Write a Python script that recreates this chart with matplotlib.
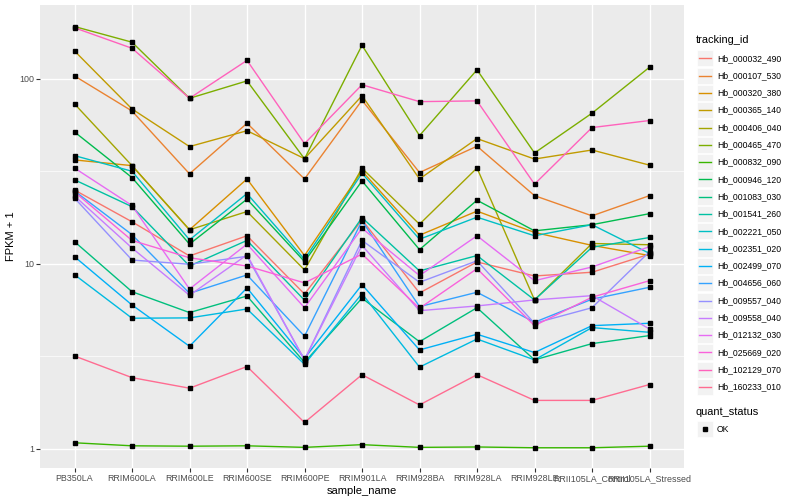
import matplotlib
matplotlib.use("Agg")
import matplotlib.pyplot as plt
from matplotlib.patches import Rectangle
from matplotlib.lines import Line2D
from matplotlib.ticker import FixedLocator, NullFormatter

plt.rcParams['font.family'] = ['Liberation Sans', 'DejaVu Sans']

# -------------------------
# data (FPKM + 1)
# -------------------------
samples = ["PB350LA", "RRIM600LA", "RRIM600LE", "RRIM600SE", "RRIM600PE",
           "RRIM901LA", "RRIM928BA", "RRIM928LA", "RRIM928LE",
           "RRII105LA_Control", "RRII105LA_Stressed"]

tracking_ids = ["Hb_000032_490", "Hb_000107_530", "Hb_000320_380", "Hb_000365_140",
                "Hb_000406_040", "Hb_000465_470", "Hb_000832_090", "Hb_000946_120",
                "Hb_001083_030", "Hb_001541_260", "Hb_002221_050", "Hb_002351_020",
                "Hb_002499_070", "Hb_004656_060", "Hb_009557_040", "Hb_009558_040",
                "Hb_012132_030", "Hb_025669_020", "Hb_102129_070", "Hb_160233_010"]

# ggplot default hue palette for 20 groups
colors = ["#F8766D", "#EA8331", "#D89000", "#C09B00", "#A3A500", "#7CAE00", "#39B600",
          "#00BB4E", "#00BF7D", "#00C1A3", "#00BFC4", "#00BAE0", "#00B0F6", "#35A2FF",
          "#9590FF", "#C77CFF", "#E76BF3", "#FA62DB", "#FF62BC", "#FF6C91"]

Hb_000032_490 = [25.1, 16.9, 11.05, 14.2, 6.88, 17.3, 6.97, 10.25, 8.61, 9.02, 11.3]
Hb_000107_530 = [103.8, 67.1, 30.7, 57.6, 28.8, 76.7, 31.2, 43.3, 23.4, 18.2, 23.4]
Hb_000320_380 = [36.5, 34.0, 15.3, 28.8, 11.1, 31.8, 14.3, 19.3, 14.8, 12.6, 11.1]
Hb_000365_140 = [141.7, 68.8, 43.1, 52.5, 37.1, 81.2, 28.8, 47.6, 36.9, 41.3, 34.2]
Hb_000406_040 = [73.3, 34.0, 15.3, 19.2, 9.28, 32.9, 16.4, 33.0, 6.39, 12.9, 12.7]
Hb_000465_470 = [192, 158, 78.6, 97.6, 37.0, 152, 49.4, 112, 39.8, 65.3, 115.7]
Hb_000832_090 = [1.08, 1.04, 1.035, 1.04, 1.02, 1.055, 1.02, 1.025, 1.015, 1.015, 1.035]
Hb_000946_120 = [51.7, 29.3, 12.8, 22.4, 10.3, 28.1, 11.95, 22.1, 15.1, 16.3, 18.7]
Hb_001083_030 = [13.2, 7.08, 5.46, 6.71, 2.94, 6.53, 3.80, 5.80, 3.03, 3.71, 4.10]
Hb_001541_260 = [28.5, 20.4, 9.75, 13.4, 6.37, 17.8, 9.17, 11.1, 6.39, 12.3, 13.9]
Hb_002221_050 = [38.5, 31.7, 13.5, 24.0, 10.6, 30.9, 13.6, 17.9, 14.2, 16.3, 11.4]
Hb_002351_020 = [8.75, 5.09, 5.11, 5.71, 2.87, 6.91, 2.77, 3.93, 3.03, 4.53, 4.27]
Hb_002499_070 = [10.95, 6.0, 3.59, 7.42, 3.09, 7.73, 3.43, 4.17, 3.32, 4.64, 4.78]
Hb_004656_060 = [24.8, 14.4, 6.94, 8.72, 4.07, 17.1, 5.88, 7.03, 4.84, 6.45, 7.48]
Hb_009557_040 = [22.7, 10.5, 9.96, 11.0, 3.03, 13.4, 7.96, 10.4, 4.78, 5.80, 11.65]
Hb_009558_040 = [23.3, 12.2, 6.77, 11.2, 3.03, 12.6, 5.59, 5.93, 6.39, 6.74, 4.45]
Hb_012132_030 = [33.0, 20.7, 7.32, 12.8, 5.80, 15.6, 8.65, 14.2, 8.12, 9.63, 12.4]
Hb_025669_020 = [24.5, 13.4, 10.8, 9.75, 7.9, 11.3, 5.76, 9.43, 4.64, 6.61, 8.12]
Hb_102129_070 = [189, 146.5, 78.6, 126, 44.7, 93, 75.4, 76.1, 27.0, 54.6, 59.6]
Hb_160233_010 = [3.18, 2.43, 2.13, 2.79, 1.39, 2.52, 1.73, 2.52, 1.83, 1.83, 2.23]

series = [Hb_000032_490, Hb_000107_530, Hb_000320_380, Hb_000365_140, Hb_000406_040,
          Hb_000465_470, Hb_000832_090, Hb_000946_120, Hb_001083_030, Hb_001541_260,
          Hb_002221_050, Hb_002351_020, Hb_002499_070, Hb_004656_060, Hb_009557_040,
          Hb_009558_040, Hb_012132_030, Hb_025669_020, Hb_102129_070, Hb_160233_010]

# -------------------------
# figure + panel (ggplot grey theme look)
# -------------------------
W, H = 800, 500
fig = plt.figure(figsize=(8, 5), dpi=100)
ax = fig.add_axes([40 / W, 1 - 468 / H, (684 - 40) / W, (468 - 5) / H])
ax.set_facecolor('#EBEBEB')
for s in ax.spines.values():
    s.set_visible(False)

xpos = list(range(len(samples)))
for vals, col in zip(series, colors):
    ax.plot(xpos, vals, color=col, lw=1.0, zorder=3)
for vals in series:
    ax.plot(xpos, vals, ls='none', marker='s', ms=2.3, color='black', zorder=4)

ax.set_yscale('log')
ax.set_ylim(0.789, 251)
ax.set_xlim(-0.6, len(samples) - 0.4)
ax.set_xticks(xpos)
ax.set_xticklabels(samples)
ax.yaxis.set_major_locator(FixedLocator([1, 10, 100]))
ax.set_yticklabels(['1', '10', '100'])
ax.yaxis.set_minor_locator(FixedLocator([10 ** 0.5, 10 ** 1.5]))
ax.yaxis.set_minor_formatter(NullFormatter())

ax.grid(True, which='major', color='white', lw=1.0, zorder=0)
ax.grid(True, which='minor', axis='y', color='white', lw=0.5, zorder=0)
ax.set_axisbelow(True)
ax.tick_params(which='major', length=2.7, width=0.8, color='#333333',
               labelsize=6.4, labelcolor='#4D4D4D', pad=1.5)
ax.tick_params(which='minor', length=0)

ax.set_xlabel('sample_name', fontsize=8, labelpad=2)
ax.set_ylabel('FPKM + 1', fontsize=8, labelpad=2)

# -------------------------
# legends (drawn by hand, ggplot style)
# -------------------------
def fx(px):
    return px / W

def fy(py):
    return 1 - py / H

fig.text(fx(696), fy(40), 'tracking_id', fontsize=7.9, va='center', ha='left')
for i, (name, col) in enumerate(zip(tracking_ids, colors)):
    yc = 58.3 + i * 17.3
    fig.patches.append(Rectangle((fx(697), fy(yc + 8)), 16 / W, 16 / H,
                                 transform=fig.transFigure, facecolor='#F2F2F2',
                                 edgecolor='white', lw=0.5))
    fig.lines.append(Line2D([fx(699), fx(711)], [fy(yc), fy(yc)],
                            transform=fig.transFigure, color=col, lw=1.0))
    fig.text(fx(717), fy(yc), name, fontsize=6.2, va='center', ha='left')

fig.text(fx(696), fy(412), 'quant_status', fontsize=7.9, va='center', ha='left')
fig.patches.append(Rectangle((fx(697), fy(429 + 8)), 16 / W, 16 / H,
                             transform=fig.transFigure, facecolor='#F2F2F2',
                             edgecolor='white', lw=0.5))
fig.lines.append(Line2D([fx(705)], [fy(429)], transform=fig.transFigure,
                        ls='none', marker='s', ms=2.3, color='black'))
fig.text(fx(717), fy(429), 'OK', fontsize=6.2, va='center', ha='left')

fig.savefig('out.png', dpi=100)
